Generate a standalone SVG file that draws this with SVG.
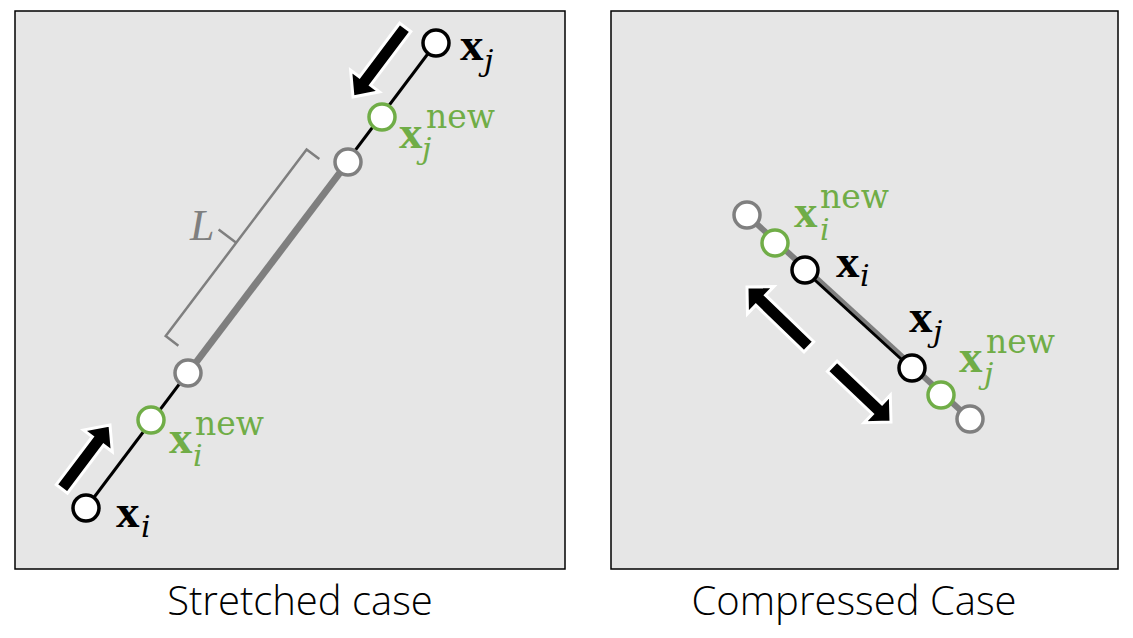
<svg xmlns="http://www.w3.org/2000/svg" width="1133" height="638" viewBox="0 0 1133 638">
<defs>
<style>
.panel{fill:#e6e6e6;stroke:#000;stroke-width:1.5}
.node{fill:#fff;stroke-width:3.5}
.blk{stroke:#000}
.grn{stroke:#70ad47}
.gry{stroke:#7f7f7f}
.arrow{fill:#000;stroke:#fff;stroke-width:3;stroke-linejoin:miter}
.xb{font-family:"Liberation Serif",serif;font-weight:bold;font-size:47px}
.sub{font-family:"DejaVu Serif",serif;font-style:italic;font-size:30px}
.sup{font-family:"DejaVu Serif",serif;font-size:33px}
.gtxt{fill:#70ad47}
.btxt{fill:#000}
.cap{font-family:"Open Sans","Noto Sans",sans-serif;font-weight:300;font-size:40px;fill:#000;text-anchor:middle}
</style>
</defs>
<rect class="panel" x="15" y="11" width="550" height="558"/>
<rect class="panel" x="611" y="11" width="507" height="558"/>
<g id="connectors">
<line x1="86" y1="508" x2="436" y2="43" stroke="#000" stroke-width="3"/>
<line x1="188" y1="373" x2="348" y2="162" stroke="#7f7f7f" stroke-width="7"/>
<path d="M319.3,159.1 L306.6,149.4 L236.2,242.8 L218.6,229.6 M236.2,242.8 L165.7,336.1 L178.4,345.8" fill="none" stroke="#7f7f7f" stroke-width="2.5"/>
<line x1="747" y1="215" x2="970" y2="419" stroke="#7f7f7f" stroke-width="6"/>
<line x1="805" y1="271" x2="912" y2="369" stroke="#000" stroke-width="3"/>
<polygon class="arrow" points="0,0 -20,-18 -20,-7 -87,-7 -87,7 -20,7 -20,18" transform="translate(353,97) rotate(126.9)"/>
<polygon class="arrow" points="0,0 -20,-18 -20,-7 -80,-7 -80,7 -20,7 -20,18" transform="translate(110,425) rotate(-53)"/>
<polygon class="arrow" points="0,0 -19,-19 -19,-7 -86,-7 -86,7 -19,7 -19,19" transform="translate(747,287) rotate(-136)"/>
<polygon class="arrow" points="0,0 -19,-19 -19,-7 -81,-7 -81,7 -19,7 -19,19" transform="translate(891,422) rotate(43.5)"/>
</g>
<text x="190" y="240" font-family="Liberation Serif,serif" font-style="italic" font-size="44" fill="#7f7f7f">L</text>
<g id="left-xj"><circle class="node blk" cx="436" cy="43" r="13"/><text class="btxt"><tspan class="xb" x="460" y="60">x</tspan><tspan class="sub" x="484" y="71">j</tspan></text></g>
<g id="left-xj-new"><circle class="node grn" cx="382" cy="117" r="13"/><text class="gtxt"><tspan class="xb" x="399" y="148">x</tspan><tspan class="sup" x="426" y="128">new</tspan><tspan class="sub" x="422" y="159">j</tspan></text></g>
<g id="left-old-j"><circle class="node gry" cx="348" cy="162" r="13"/></g>
<g id="left-old-i"><circle class="node gry" cx="188" cy="373" r="13"/></g>
<g id="left-xi-new"><circle class="node grn" cx="151" cy="420" r="13"/><text class="gtxt"><tspan class="xb" x="169" y="453">x</tspan><tspan class="sup" x="195" y="435">new</tspan><tspan class="sub" x="193" y="466">i</tspan></text></g>
<g id="left-xi"><circle class="node blk" cx="86" cy="508" r="13"/><text class="btxt"><tspan class="xb" x="116" y="527">x</tspan><tspan class="sub" x="141" y="537">i</tspan></text></g>
<g id="right-old-i"><circle class="node gry" cx="747" cy="215" r="13"/></g>
<g id="right-xi-new"><circle class="node grn" cx="775" cy="243" r="13"/><text class="gtxt"><tspan class="xb" x="794" y="227">x</tspan><tspan class="sup" x="820" y="208">new</tspan><tspan class="sub" x="820" y="240">i</tspan></text></g>
<g id="right-xi"><circle class="node blk" cx="805" cy="270" r="13"/><text class="btxt"><tspan class="xb" x="836" y="277">x</tspan><tspan class="sub" x="860" y="286">i</tspan></text></g>
<g id="right-xj"><circle class="node blk" cx="912" cy="368" r="13"/><text class="btxt"><tspan class="xb" x="909" y="332">x</tspan><tspan class="sub" x="933" y="342">j</tspan></text></g>
<g id="right-xj-new"><circle class="node grn" cx="941" cy="395" r="13"/><text class="gtxt"><tspan class="xb" x="959" y="372">x</tspan><tspan class="sup" x="986" y="353">new</tspan><tspan class="sub" x="984" y="384">j</tspan></text></g>
<g id="right-old-j"><circle class="node gry" cx="970" cy="419" r="13"/></g>
<text class="cap" x="300" y="615">Stretched case</text>
<text class="cap" x="854" y="615">Compressed Case</text>
</svg>
